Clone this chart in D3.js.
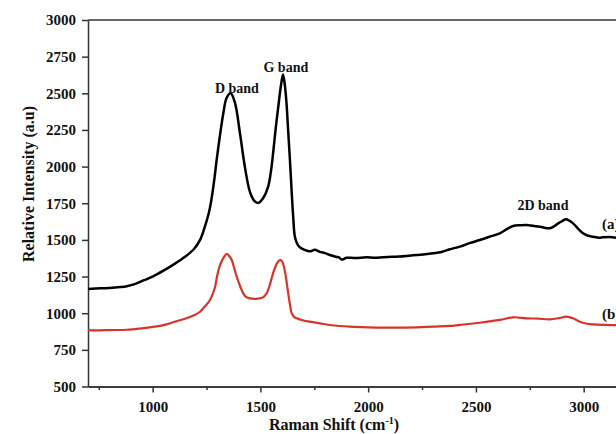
<!DOCTYPE html>
<html>
<head>
<meta charset="utf-8">
<script src="https://cdn.jsdelivr.net/npm/d3@7"></script>
<style>
  body { margin: 0; background: #fff; }
  svg { display: block; }
  .axis text { font-family: "Liberation Serif", "Times New Roman", serif; font-weight: bold; font-size: 15px; fill: #111; }
  .axis path, .axis line { stroke: #333; stroke-width: 1.5; }
  .lbl { font-family: "Liberation Serif", "Times New Roman", serif; font-weight: bold; fill: #111; }
</style>
</head>
<body>
<div id="chart"></div>
<script>
// spectrum (a) - black
const shiftA = [700, 760, 800, 850, 880, 920, 960, 1000, 1050, 1100, 1150, 1192, 1220, 1240, 1260, 1270, 1285, 1297, 1313, 1328, 1343, 1362, 1382, 1405, 1428, 1451, 1470, 1490, 1513, 1536, 1550, 1559, 1571, 1583, 1596, 1605, 1613, 1621, 1629, 1637, 1645, 1652, 1660, 1672, 1683, 1705, 1730, 1752, 1776, 1800, 1822, 1850, 1865, 1877, 1900, 1940, 1993, 2030, 2070, 2110, 2147, 2190, 2225, 2265, 2302, 2340, 2379, 2425, 2470, 2518, 2565, 2611, 2645, 2673, 2705, 2735, 2765, 2797, 2843, 2865, 2882, 2900, 2917, 2935, 2951, 2975, 2997, 3020, 3044, 3070, 3090, 3120, 3150];
const intensityA = [1165, 1170, 1172, 1178, 1184, 1200, 1225, 1250, 1290, 1335, 1385, 1438, 1500, 1580, 1680, 1752, 1900, 2045, 2220, 2364, 2468, 2500, 2434, 2229, 1997, 1829, 1770, 1752, 1786, 1863, 1980, 2092, 2260, 2409, 2560, 2628, 2560, 2434, 2240, 2045, 1830, 1660, 1522, 1470, 1450, 1432, 1422, 1432, 1418, 1410, 1397, 1385, 1380, 1366, 1378, 1376, 1381, 1378, 1382, 1385, 1386, 1392, 1397, 1402, 1409, 1418, 1436, 1454, 1478, 1499, 1522, 1545, 1575, 1595, 1600, 1602, 1596, 1590, 1579, 1595, 1613, 1628, 1641, 1630, 1613, 1575, 1545, 1528, 1522, 1515, 1518, 1520, 1515];

// spectrum (b) - red
const shiftB = [700, 760, 800, 880, 940, 1009, 1060, 1102, 1150, 1195, 1220, 1241, 1266, 1288, 1300, 1313, 1328, 1343, 1355, 1367, 1378, 1390, 1413, 1430, 1451, 1475, 1498, 1515, 1529, 1545, 1559, 1575, 1590, 1600, 1609, 1620, 1629, 1637, 1645, 1656, 1668, 1700, 1730, 1776, 1830, 1915, 2000, 2070, 2150, 2225, 2300, 2379, 2425, 2518, 2611, 2673, 2735, 2790, 2843, 2890, 2920, 2950, 2982, 3010, 3044, 3105, 3150];
const intensityB = [885, 883, 885, 887, 895, 908, 922, 942, 962, 988, 1010, 1044, 1090, 1170, 1260, 1330, 1376, 1404, 1390, 1363, 1310, 1249, 1158, 1115, 1101, 1098, 1101, 1112, 1136, 1200, 1274, 1335, 1363, 1355, 1318, 1230, 1136, 1060, 1000, 975, 965, 950, 942, 931, 918, 908, 903, 901, 902, 903, 908, 913, 920, 935, 954, 972, 965, 963, 958, 968, 977, 965, 942, 930, 924, 920, 918];

const yTicks = [500, 750, 1000, 1250, 1500, 1750, 2000, 2250, 2500, 2750, 3000];
const xTicks = [1000, 1500, 2000, 2500, 3000];
const xMinorTicks = [750, 1250, 1750, 2250, 2750];

const bandLabels = [
  { text: "D band", x: 1391, y: 2502 },
  { text: "G band", x: 1618, y: 2645 },
  { text: "2D band", x: 2811, y: 1704 }
];

const W = 616, H = 434;
const padLeft = 88, padTop = 20, axisY = 386.5, edgeRight = 616;

const svg = d3.select("#chart").append("svg")
  .attr("width", W)
  .attr("height", H);

const x = d3.scaleLinear().domain([700, 3150]).range([padLeft, edgeRight]);
const y = d3.scaleLinear().domain([500, 3000]).range([axisY, padTop]);

// top frame line
svg.append("line")
  .attr("x1", padLeft).attr("x2", edgeRight)
  .attr("y1", padTop).attr("y2", padTop)
  .attr("stroke", "#333").attr("stroke-width", 1.5);

svg.append("g")
  .attr("class", "axis")
  .attr("transform", `translate(0,${axisY})`)
  .call(d3.axisBottom(x).tickValues(xMinorTicks).tickSize(3.5).tickSizeOuter(0).tickFormat(""));

svg.append("g")
  .attr("class", "axis")
  .attr("transform", `translate(0,${axisY})`)
  .call(d3.axisBottom(x).tickValues(xTicks).tickSize(6).tickSizeOuter(0).tickPadding(8.5).tickFormat(d3.format("d")));

svg.append("g")
  .attr("class", "axis")
  .attr("transform", `translate(${padLeft},0)`)
  .call(d3.axisLeft(y).tickValues(yTicks).tickSize(6).tickSizeOuter(0).tickPadding(6).tickFormat(d3.format("d")));

const line = d3.line()
  .x(d => x(d[0]))
  .y(d => y(d[1]))
  .curve(d3.curveCatmullRom.alpha(0.5));

svg.append("path")
  .datum(d3.zip(shiftB, intensityB))
  .attr("d", line)
  .attr("fill", "none")
  .attr("stroke", "#d8342a")
  .attr("stroke-width", 2.2);

svg.append("path")
  .datum(d3.zip(shiftA, intensityA))
  .attr("d", line)
  .attr("fill", "none")
  .attr("stroke", "#000")
  .attr("stroke-width", 2.5);

svg.selectAll(".band")
  .data(bandLabels)
  .enter().append("text")
  .attr("class", "lbl band")
  .attr("x", d => x(d.x))
  .attr("y", d => y(d.y))
  .attr("text-anchor", "middle")
  .style("font-size", "14px")
  .text(d => d.text);

svg.append("text")
  .attr("class", "lbl")
  .attr("x", 602)
  .attr("y", 229)
  .style("font-size", "15px")
  .text("(a)");

svg.append("text")
  .attr("class", "lbl")
  .attr("x", 602)
  .attr("y", 319)
  .style("font-size", "15px")
  .text("(b)");

svg.append("text")
  .attr("class", "lbl")
  .attr("transform", "translate(34,184) rotate(-90)")
  .attr("text-anchor", "middle")
  .style("font-size", "16px")
  .text("Relative Intensity (a.u)");

const xt = svg.append("text")
  .attr("class", "lbl")
  .attr("x", 334)
  .attr("y", 430)
  .attr("text-anchor", "middle")
  .style("font-size", "16px");
xt.append("tspan").text("Raman Shift (cm");
xt.append("tspan").attr("dy", -6).style("font-size", "10px").text("-1");
xt.append("tspan").attr("dy", 6).text(")");
</script>
</body>
</html>
